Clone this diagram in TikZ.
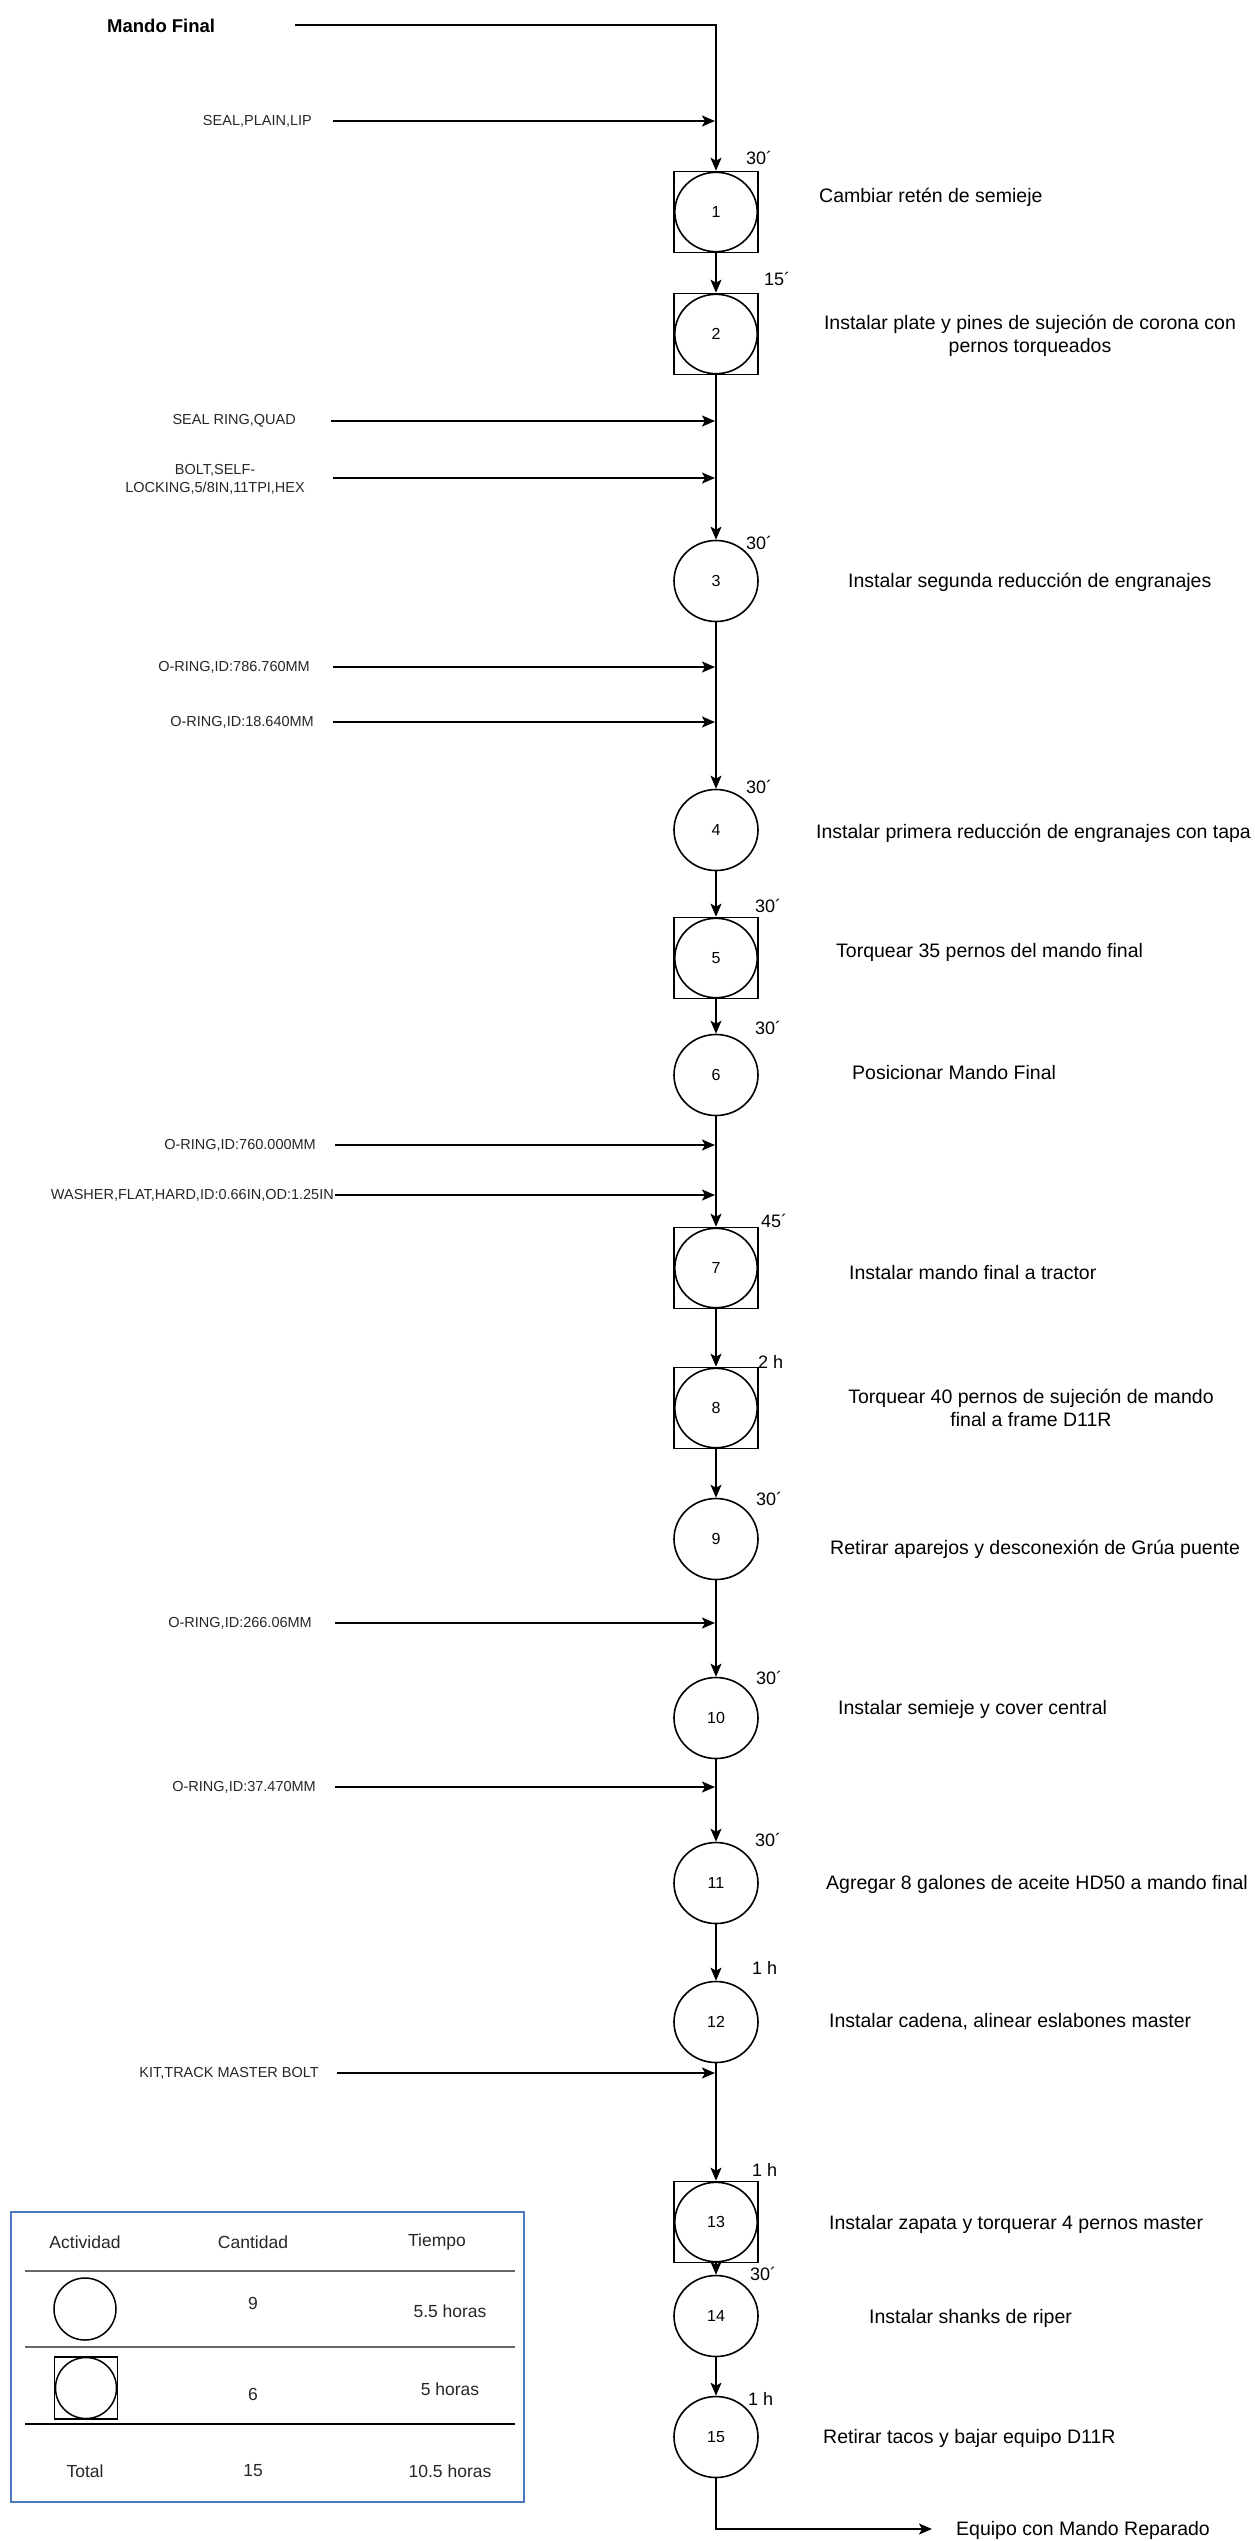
\documentclass[tikz,border=0pt]{standalone}
\usepackage{fontspec}
\setmainfont{Liberation Sans}
\usetikzlibrary{arrows.meta,shapes.geometric}
\definecolor{tblblue}{RGB}{78,122,196}
\begin{document}
\begin{tikzpicture}[x=1pt,y=-1pt,
  flow/.style={line width=1.8pt,-{Stealth[length=13pt,width=11pt,inset=3pt]}},
  opcircle/.style={ellipse,draw,line width=1.6pt,minimum width=84pt,minimum height=81pt,inner sep=0pt,
    font=\fontsize{16}{18}\selectfont},
  opbox/.style={rectangle,draw,line width=1.6pt,minimum width=84pt,minimum height=81pt,inner sep=0pt,
    font=\fontsize{16}{18}\selectfont,
    path picture={\draw[line width=1.6pt] (path picture bounding box.center) ellipse (41.2pt and 39.7pt);}},
  tlabel/.style={anchor=west,inner sep=0pt,font=\fontsize{18}{20}\selectfont},
  desc/.style={anchor=west,inner sep=0pt,font=\fontsize{19.5}{23}\selectfont},
  desc2/.style={align=center,inner sep=0pt,font=\fontsize{19.5}{23}\selectfont},
  inlabel/.style={anchor=east,inner sep=0pt,text=black!85,font=\fontsize{14.5}{18}\selectfont},
  tbltext/.style={inner sep=0pt,text=black!85,font=\fontsize{17.5}{20}\selectfont},
  tblrule/.style={line width=2pt,black!60}
]
\useasboundingbox (0,0) rectangle (1255,2541);

% ---- operations along the main line ----
\node[opbox]    (n1)  at (716,212)  {1};
\node[opbox]    (n2)  at (716,334)  {2};
\node[opcircle] (n3)  at (716,581)  {3};
\node[opcircle] (n4)  at (716,830)  {4};
\node[opbox]    (n5)  at (716,958)  {5};
\node[opcircle] (n6)  at (716,1075) {6};
\node[opbox]    (n7)  at (716,1268) {7};
\node[opbox]    (n8)  at (716,1408) {8};
\node[opcircle] (n9)  at (716,1539) {9};
\node[opcircle] (n10) at (716,1718) {10};
\node[opcircle] (n11) at (716,1883) {11};
\node[opcircle] (n12) at (716,2022) {12};
\node[opbox]    (n13) at (716,2222) {13};
\node[opcircle] (n14) at (716,2316) {14};
\node[opcircle] (n15) at (716,2437) {15};

% ---- durations ----
\node[tlabel] (t1)  at (746,158)  {30´};
\node[tlabel] (t2)  at (764,279)  {15´};
\node[tlabel] (t3)  at (746,543)  {30´};
\node[tlabel] (t4)  at (746,787)  {30´};
\node[tlabel] (t5)  at (755,906)  {30´};
\node[tlabel] (t6)  at (755,1028) {30´};
\node[tlabel] (t7)  at (761,1221) {45´};
\node[tlabel] (t8)  at (758,1362) {2 h};
\node[tlabel] (t9)  at (756,1499) {30´};
\node[tlabel] (t10) at (756,1678) {30´};
\node[tlabel] (t11) at (755,1840) {30´};
\node[tlabel] (t12) at (752,1968) {1 h};
\node[tlabel] (t13) at (752,2170) {1 h};
\node[tlabel] (t14) at (750,2274) {30´};
\node[tlabel] (t15) at (748,2399) {1 h};

% ---- descriptions ----
\node[desc]  (d1)  at (819,197)  {Cambiar retén de semieje};
\node[desc2] (d2)  at (1030,336) {Instalar plate y pines de sujeción de corona con\\pernos torqueados};
\node[desc]  (d3)  at (848,582)  {Instalar segunda reducción de engranajes};
\node[desc]  (d4)  at (816,833)  {Instalar primera reducción de engranajes con tapa};
\node[desc]  (d5)  at (836,952)  {Torquear 35 pernos del mando final};
\node[desc]  (d6)  at (852,1073) {Posicionar Mando Final};
\node[desc]  (d7)  at (849,1273) {Instalar mando final a tractor};
\node[desc2] (d8)  at (1031,1408) {Torquear 40 pernos de sujeción de mando\\final a frame D11R};
\node[desc]  (d9)  at (830,1549) {Retirar aparejos y desconexión de Grúa puente};
\node[desc]  (d10) at (838,1709) {Instalar semieje y cover central};
\node[desc]  (d11) at (826,1884) {Agregar 8 galones de aceite HD50 a mando final};
\node[desc]  (d12) at (829,2022) {Instalar cadena, alinear eslabones master};
\node[desc]  (d13) at (829,2224) {Instalar zapata y torquerar 4 pernos master};
\node[desc]  (d14) at (869,2318) {Instalar shanks de riper};
\node[desc]  (d15) at (823,2438) {Retirar tacos y bajar equipo D11R};

% ---- incoming material ----
\node[anchor=west,inner sep=0pt,font=\bfseries\fontsize{18.5}{20}\selectfont] (mf) at (107,26) {Mando Final};
\coordinate (mfS) at (295,25);
\coordinate (mfC) at (716,25);
\draw[flow] (mfS) -- (mfC) -- (n1.north);

\node[inlabel] (m1) at (312,121) {SEAL,PLAIN,LIP};
\coordinate (m1S) at (333,121);  \coordinate (m1T) at (715,121);
\node[inlabel] (m2) at (296,421) {SEAL RING,QUAD};
\coordinate (m2S) at (331,421);  \coordinate (m2T) at (715,421);
\node[inlabel,align=center] (m3) at (305,479) {BOLT,SELF-\\LOCKING,5/8IN,11TPI,HEX};
\coordinate (m3S) at (333,478);  \coordinate (m3T) at (715,478);
\node[inlabel] (m4) at (310,667) {O-RING,ID:786.760MM};
\coordinate (m4S) at (333,667);  \coordinate (m4T) at (715,667);
\node[inlabel] (m5) at (314,722) {O-RING,ID:18.640MM};
\coordinate (m5S) at (333,722);  \coordinate (m5T) at (715,722);
\node[inlabel] (m6) at (316,1145) {O-RING,ID:760.000MM};
\coordinate (m6S) at (335,1145); \coordinate (m6T) at (715,1145);
\node[inlabel] (m7) at (334,1195) {WASHER,FLAT,HARD,ID:0.66IN,OD:1.25IN};
\coordinate (m7S) at (335,1195); \coordinate (m7T) at (715,1195);
\node[inlabel] (m8) at (312,1623) {O-RING,ID:266.06MM};
\coordinate (m8S) at (335,1623); \coordinate (m8T) at (715,1623);
\node[inlabel] (m9) at (316,1787) {O-RING,ID:37.470MM};
\coordinate (m9S) at (335,1787); \coordinate (m9T) at (715,1787);
\node[inlabel] (m10) at (319,2073) {KIT,TRACK MASTER BOLT};
\coordinate (m10S) at (337,2073); \coordinate (m10T) at (715,2073);

\foreach \k in {1,...,10} {\draw[flow] (m\k S) -- (m\k T);}

% ---- main line connectors ----
\draw[flow] (n1.south) -- (n2.north);
\draw[flow] (n2.south) -- (n3.north);
\draw[flow] (n3.south) -- (n4.north);
\draw[flow] (n4.south) -- (n5.north);
\draw[flow] (n5.south) -- (n6.north);
\draw[flow] (n6.south) -- (n7.north);
\draw[flow] (n7.south) -- (n8.north);
\draw[flow] (n8.south) -- (n9.north);
\draw[flow] (n9.south) -- (n10.north);
\draw[flow] (n10.south) -- (n11.north);
\draw[flow] (n11.south) -- (n12.north);
\draw[flow] (n12.south) -- (n13.north);
\draw[flow] (n13.south) -- (n14.north);
\draw[flow] (n14.south) -- (n15.north);

\coordinate (endC) at (716,2529);
\coordinate (endT) at (932,2529);
\draw[flow] (n15.south) -- (endC) -- (endT);
\node[desc] (fin) at (956,2530) {Equipo con Mando Reparado};

% ---- summary table ----
\node[draw=tblblue,line width=2pt,minimum width=513pt,minimum height=290pt,inner sep=0pt] (tbl) at (267.5,2357) {};
\draw[tblrule] (25,2271) -- (515,2271);
\draw[tblrule] (25,2347) -- (515,2347);
\draw[line width=2pt,black] (25,2424) -- (515,2424);

\node[tbltext] (h1) at (85,2242)  {Actividad};
\node[tbltext] (h2) at (253,2242) {Cantidad};
\node[tbltext] (h3) at (437,2242) {Tiempo};

\node[circle,draw,line width=1.5pt,minimum size=62pt,inner sep=0pt] (s1) at (85,2309) {};
\node[tbltext] (c1) at (253,2303) {9};
\node[tbltext] (r1) at (450,2311) {5.5 horas};

\node[rectangle,draw,line width=1.5pt,minimum width=63pt,minimum height=62pt,inner sep=0pt,
  path picture={\draw[line width=1.5pt] (path picture bounding box.center) circle (30.5pt);}] (s2) at (86,2388) {};
\node[tbltext] (c2) at (253,2394) {6};
\node[tbltext] (r2) at (450,2389) {5 horas};

\node[tbltext] (tt1) at (85,2471)  {Total};
\node[tbltext] (tt2) at (253,2471) {15};
\node[tbltext] (tt3) at (450,2471) {10.5 horas};
\end{tikzpicture}
\end{document}
